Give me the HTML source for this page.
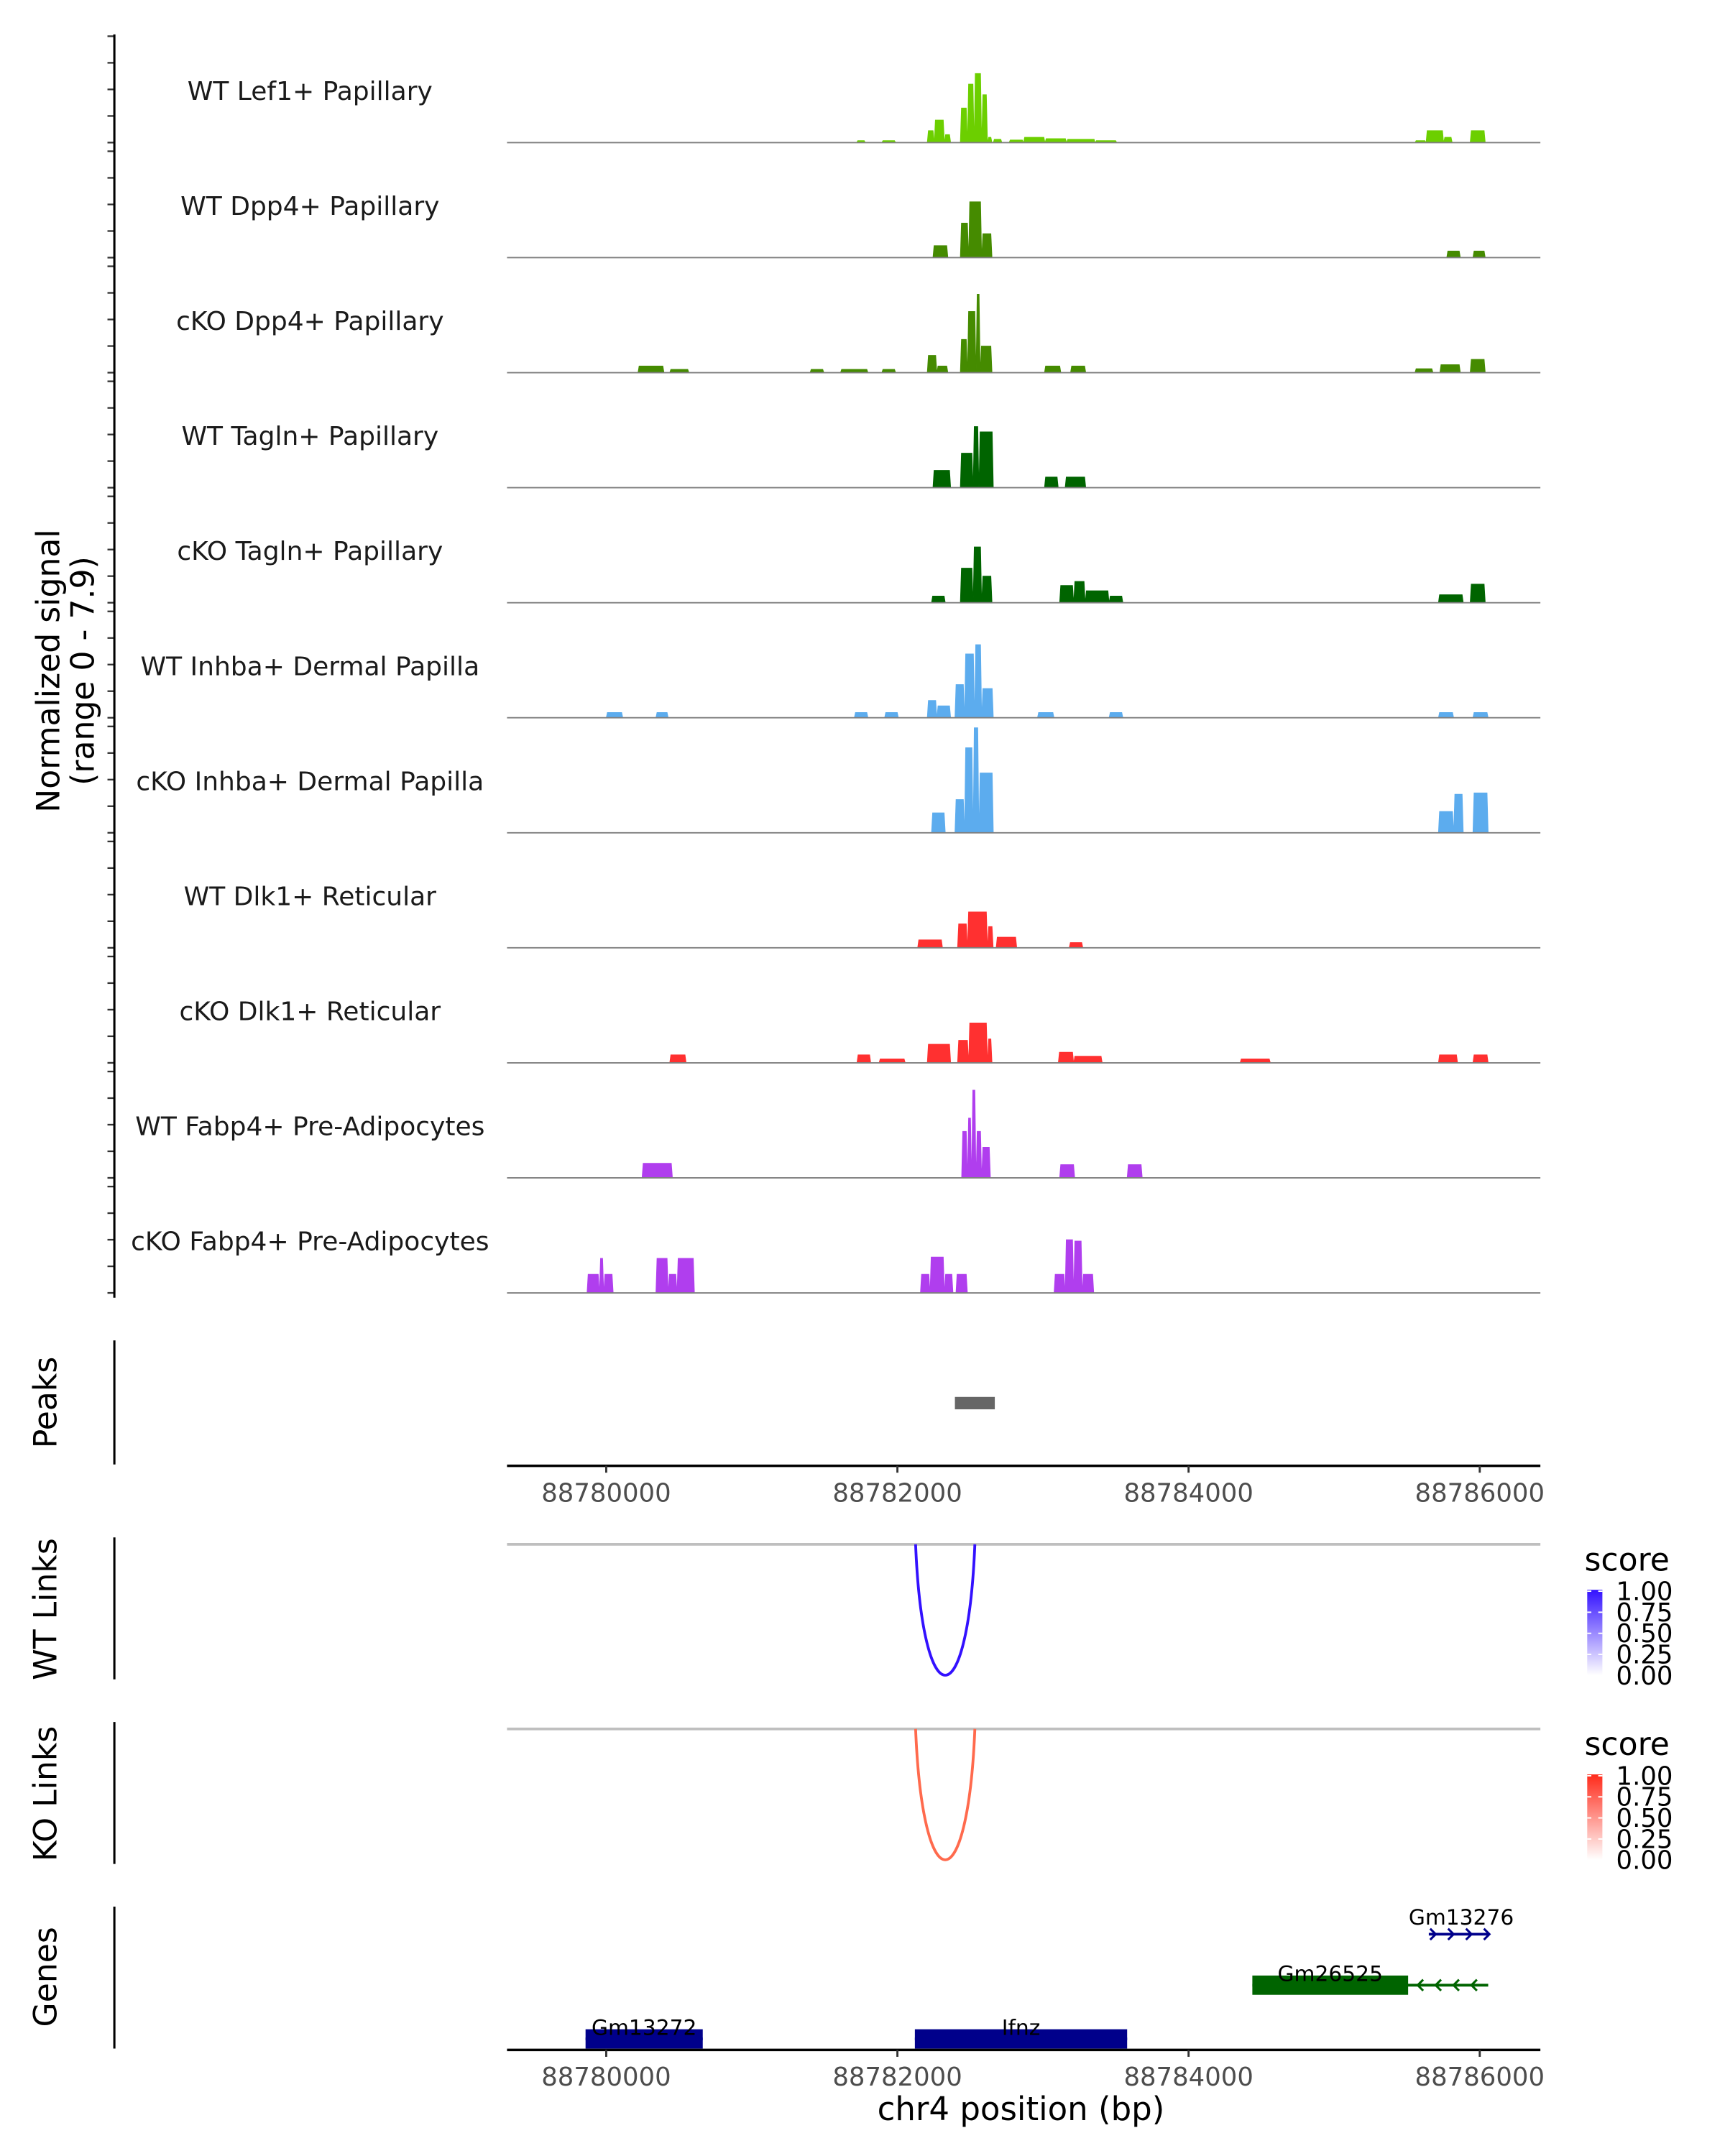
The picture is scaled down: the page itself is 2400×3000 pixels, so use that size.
<!DOCTYPE html>
<html><head><meta charset="utf-8">
<style>
html,body{margin:0;padding:0;background:#fff;}
svg{display:block;font-family:"DejaVu Sans","Liberation Sans",sans-serif;}
</style></head>
<body>
<svg id="chart" width="2400" height="3000" viewBox="0 0 1252 1565" xmlns="http://www.w3.org/2000/svg">
<g id="tracks"></g>
<g id="axes"></g>
</svg>
<script>
const trackNames = ["WT Lef1+ Papillary","WT Dpp4+ Papillary","cKO Dpp4+ Papillary","WT Tagln+ Papillary","cKO Tagln+ Papillary","WT Inhba+ Dermal Papilla","cKO Inhba+ Dermal Papilla","WT Dlk1+ Reticular","cKO Dlk1+ Reticular","WT Fabp4+ Pre-Adipocytes","cKO Fabp4+ Pre-Adipocytes"];
const trackColors = ["#6CCF00","#458B00","#458B00","#006400","#006400","#5CACEE","#5CACEE","#FF3030","#FF3030","#B03EEE","#B03EEE"];
const xTicks = [88780000, 88782000, 88784000, 88786000];
// signal segments: [startBp, endBp, value]
const sigLef1 = [[88781720,88781780,0.15],[88781893,88781988,0.15],[88782205,88782253,0.9],[88782253,88782323,1.7],[88782323,88782366,0.6],[88782432,88782481,2.6],[88782481,88782527,4.4],[88782527,88782579,5.2],[88782579,88782619,3.6],[88782619,88782650,0.4],[88782658,88782718,0.25],[88782767,88782866,0.2],[88782866,88783014,0.4],[88783014,88783162,0.3],[88783162,88783359,0.25],[88783359,88783507,0.15],[88785555,88785631,0.15],[88785631,88785752,0.9],[88785752,88785811,0.4],[88785934,88786038,0.9]];
const sigWTDpp4 = [[88782244,88782347,0.9],[88782432,88782489,2.6],[88782489,88782579,4.2],[88782579,88782650,1.8],[88785773,88785867,0.5],[88785953,88786038,0.5]];
const sigKODpp4 = [[88780218,88780397,0.5],[88780436,88780568,0.25],[88781400,88781495,0.25],[88781609,88781798,0.25],[88781893,88781988,0.25],[88782205,88782271,1.3],[88782271,88782347,0.5],[88782432,88782481,2.5],[88782481,88782540,4.6],[88782540,88782569,5.9],[88782569,88782650,2.0],[88783010,88783123,0.5],[88783189,88783294,0.5],[88785555,88785679,0.3],[88785726,88785867,0.6],[88785934,88786038,1.0]];
const sigWTTagln = [[88782244,88782366,1.3],[88782432,88782520,2.6],[88782520,88782560,4.6],[88782560,88782659,4.2],[88783010,88783105,0.8],[88783152,88783294,0.8]];
const sigKOTagln = [[88782234,88782329,0.5],[88782432,88782520,2.6],[88782520,88782579,4.2],[88782579,88782650,2.0],[88783114,88783211,1.3],[88783211,88783290,1.6],[88783290,88783454,0.9],[88783454,88783549,0.5],[88785716,88785887,0.6],[88785934,88786038,1.4]];
const sigWTInhba = [[88780000,88780114,0.4],[88780341,88780426,0.4],[88781704,88781798,0.4],[88781912,88782007,0.4],[88782205,88782271,1.3],[88782271,88782366,0.9],[88782395,88782461,2.5],[88782461,88782530,4.8],[88782530,88782579,5.5],[88782579,88782659,2.2],[88782962,88783076,0.4],[88783454,88783549,0.4],[88785716,88785821,0.4],[88785953,88786058,0.4]];
const sigKOInhba = [[88782234,88782329,1.5],[88782395,88782461,2.5],[88782461,88782520,6.4],[88782520,88782560,7.9],[88782560,88782659,4.5],[88785716,88785821,1.6],[88785821,88785887,2.9],[88785953,88786058,3.0]];
const sigWTDlk1 = [[88782139,88782310,0.6],[88782413,88782481,1.8],[88782481,88782619,2.7],[88782619,88782658,1.6],[88782678,88782820,0.8],[88783180,88783274,0.4]];
const sigKODlk1 = [[88780436,88780549,0.6],[88781722,88781817,0.6],[88781874,88782054,0.3],[88782205,88782366,1.4],[88782413,88782489,1.7],[88782489,88782619,3.0],[88782619,88782650,1.8],[88783105,88783211,0.8],[88783211,88783407,0.5],[88784354,88784562,0.3],[88785716,88785848,0.6],[88785953,88786058,0.6]];
const sigWTFabp4 = [[88780246,88780455,1.1],[88782441,88782481,3.5],[88782481,88782510,4.5],[88782510,88782540,6.6],[88782540,88782579,3.5],[88782579,88782639,2.3],[88783114,88783218,1.0],[88783578,88783682,1.0]];
const sigKOFabp4 = [[88779868,88779953,1.4],[88779953,88779983,2.6],[88779983,88780048,1.4],[88780341,88780426,2.6],[88780426,88780486,1.4],[88780486,88780606,2.6],[88782158,88782224,1.4],[88782224,88782323,2.7],[88782323,88782382,1.4],[88782402,88782481,1.4],[88783076,88783152,1.4],[88783152,88783211,4.0],[88783211,88783270,3.9],[88783270,88783349,1.4]];
const signals = [sigLef1,sigWTDpp4,sigKODpp4,sigWTTagln,sigKOTagln,sigWTInhba,sigKOInhba,sigWTDlk1,sigKODlk1,sigWTFabp4,sigKOFabp4];
const peakStarts = [88782395];
const peakEnds = [88782669];
const geneNames = ["Gm13272","Ifnz","Gm26525","Gm13276"];
const geneStarts = [88779858,88782120,88784438,88785650];
const geneEnds = [88780663,88783578,88785508,88786058];
const geneLineEnds = [88780663,88783578,88786058,88786058];
const geneStrands = ["+","+","-","+"];
const geneRows = [0,0,1,2];
const geneHasExon = [true,true,true,false];
const linkStarts = [88782125];
const linkEnds = [88782532];
const wtLinkScores = [0.8];
const koLinkScores = [0.65];

const NS="http://www.w3.org/2000/svg";
const X0=88780000, PX0=440, PXPB=634/6000;
const xs = bp => PX0 + (bp-X0)*PXPB;
const PLOTL=368, PLOTR=1118;
const baselines = trackNames.map((_,i)=>103.5+i*83.5);
const vs = 9.65;
function el(tag, attrs, parent, text){const e=document.createElementNS(NS,tag);for(const k in attrs)e.setAttribute(k,attrs[k]);if(text!==undefined)e.textContent=text;(parent||svg).appendChild(e);return e;}
const svg=document.getElementById('chart');
const tg=document.getElementById('tracks');
const ag=document.getElementById('axes');

signals.forEach((segs,i)=>{
  const b=baselines[i];
  const g=el('g',{},tg);
  
  
  let d='';
  segs.forEach(s=>{const x0=xs(s[0]),x1=xs(s[1]),y=b-s[2]*vs;d+=`M${x0},${b}L${x0+0.8},${y}L${x1-0.8},${y}L${x1},${b}Z`;});
  const p=el('path',{d:d,fill:trackColors[i],stroke:trackColors[i],'stroke-width':0.4},g);
  
  
  const bl=el('line',{x1:PLOTL,x2:PLOTR,y1:b,y2:b,stroke:'#7f7f7f','stroke-width':1},g);
  
  
  const t=el('text',{x:225,y:b-31,'text-anchor':'middle','font-size':18.8,fill:'#1a1a1a'},g,trackNames[i]);
  
  
  for(let k=0;k<5;k++){const ty=b-k*19.3;const tk=el('line',{x1:78,x2:83,y1:ty,y2:ty,stroke:'#333','stroke-width':1.2},ag);
    
    }
});
let l=el('line',{x1:83,x2:83,y1:25,y2:942,stroke:'#000','stroke-width':1.6},ag);


let yt=el('text',{transform:'translate(43,487) rotate(-90)','text-anchor':'middle','font-size':23,fill:'#000'},ag,'Normalized signal');


yt=el('text',{transform:'translate(68,487) rotate(-90)','text-anchor':'middle','font-size':23,fill:'#000'},ag,'(range 0 - 7.9)');



function panelAxis(y1,y2,title,ty){
  const a=el('line',{x1:83,x2:83,y1:y1,y2:y2,stroke:'#000','stroke-width':1.6},ag);
  
  
  const t=el('text',{transform:`translate(41,${ty}) rotate(-90)`,'text-anchor':'middle','font-size':23,fill:'#000'},ag,title);
  
  
}
function xAxis(y,name){
  const g=el('g',{},ag);
  
  
  el('line',{x1:PLOTL,x2:PLOTR,y1:y,y2:y,stroke:'#000','stroke-width':1.8},g);
  xTicks.forEach(v=>{el('line',{x1:xs(v),x2:xs(v),y1:y,y2:y+5,stroke:'#333','stroke-width':1.5},g);
    const t=el('text',{x:xs(v),y:y+26,'text-anchor':'middle','font-size':18.5,fill:'#4d4d4d'},g,String(v));
    
    });
}
// Peaks
panelAxis(973,1063,'Peaks',1018);
peakStarts.forEach((s,i)=>{const r=el('rect',{x:xs(s),y:1014,width:xs(peakEnds[i])-xs(s),height:9,fill:'#666'},ag);
  
  });
xAxis(1064,'peaks-x-axis');

// Links
function linkPanel(top,title,scores,c0,c1,legTop,gid){
  panelAxis(top-5,top+98,title,top+47);
  const bl=el('line',{x1:PLOTL,x2:PLOTR,y1:top,y2:top,stroke:'#bfbfbf','stroke-width':2},ag);
  
  
  linkStarts.forEach((s,i)=>{const a=xs(s),b=xs(linkEnds[i]);const dep=95*4/3;
    const col=scores[i]>0.7?c0:c1;
    const p=el('path',{d:`M${a},${top}C${a+(b-a)*0.12},${top+dep} ${b-(b-a)*0.12},${top+dep} ${b},${top}`,fill:'none',stroke:col,'stroke-width':2},ag);
    
    });
  const lg=el('g',{},ag);
  
  
  el('text',{x:1150,y:legTop,'font-size':23,fill:'#000'},lg,'score');
  const defs=el('defs',{},lg);
  const gr=el('linearGradient',{id:gid,x1:0,y1:0,x2:0,y2:1},defs);
  el('stop',{offset:0,'stop-color':c0},gr);el('stop',{offset:1,'stop-color':'#ffffff'},gr);
  el('rect',{x:1152,y:legTop+14,width:11,height:62,fill:`url(#${gid})`},lg);
  ['1.00','0.75','0.50','0.25','0.00'].forEach((v,k)=>{const yy=legTop+15+k*15.3;
    el('line',{x1:1152,x2:1155,y1:yy,y2:yy,stroke:'#fff'},lg);el('line',{x1:1160,x2:1163,y1:yy,y2:yy,stroke:'#fff'},lg);
    el('text',{x:1173,y:yy+6.5,'font-size':18.5,fill:'#000'},lg,v);});
}
linkPanel(1121,'WT Links',wtLinkScores,'#3311FF','#5533FF',1140,'gb');
linkPanel(1255,'KO Links',koLinkScores,'#FF2A1A','#FF6A4D',1274,'gr');

// Genes
panelAxis(1384,1487,'Genes',1435);
const rowY=[1480,1441,1404];
const geneCols=["#00008B","#00008B","#006400","#00008B"];
geneNames.forEach((n,i)=>{
  const g=el('g',{},ag);
  
  
  const y=rowY[geneRows[i]], c=geneCols[i];
  const xa=xs(geneStarts[i]), xb=xs(geneLineEnds[i]);
  el('line',{x1:xa,x2:xb,y1:y,y2:y,stroke:c,'stroke-width':2},g);
  if(geneHasExon[i]) el('rect',{x:xa,y:y-7,width:xs(geneEnds[i])-xa,height:14,fill:c},g);
  for(let x=xa+4;x<=xb;x+=13){const dd=geneStrands[i]=='+'?`M${x-3},${y-4}L${x+1},${y}L${x-3},${y+4}`:`M${x+3},${y-4}L${x-1},${y}L${x+3},${y+4}`;
    el('path',{d:dd,fill:'none',stroke:c,'stroke-width':1.6},g);}
  const t=el('text',{x:(xa+(geneHasExon[i]?xs(geneEnds[i]):xb))/2+(i==3?2:0),y:y-3-(i==3?4:0),'text-anchor':'middle','font-size':15.5,fill:'#000'},g,n);
  
  
});
xAxis(1488,'genes-x-axis');
const xt=el('text',{x:741,y:1539,'text-anchor':'middle','font-size':23.5,fill:'#000'},ag,'chr4 position (bp)');


</script>
</body></html>
